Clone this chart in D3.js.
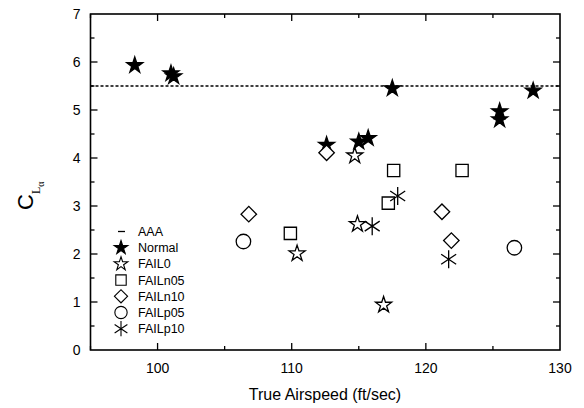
<!DOCTYPE html>
<html>
<head>
<meta charset="utf-8">
<script src="https://cdn.jsdelivr.net/npm/d3@7"></script>
<style>
body { margin: 0; background: #fff; }
text { font-family: "Liberation Sans", Arial, sans-serif; }
</style>
</head>
<body>
<svg id="chart" width="584" height="408"></svg>
<script>
// data: [airspeed, CLalpha]
var AAA = 5.5;
var normal = [[98.3, 5.93], [101.0, 5.76], [101.2, 5.7], [117.5, 5.45], [128.0, 5.4],
    [125.5, 4.97], [125.5, 4.8], [115.0, 4.34], [115.7, 4.41], [112.6, 4.27]];
var fail0 = [[114.7, 4.05], [114.9, 2.62], [110.4, 2.01], [116.85, 0.94]];
var failn05 = [[117.6, 3.74], [122.7, 3.74], [117.2, 3.06], [109.9, 2.43]];
var failn10 = [[112.6, 4.11], [106.8, 2.83], [121.2, 2.88], [121.9, 2.28]];
var failp05 = [[106.4, 2.26], [126.6, 2.13]];
var failp10 = [[117.9, 3.21], [116.0, 2.58], [121.7, 1.89]];
var xTicks = [100, 110, 120, 130];
var yTicks = [0, 1, 2, 3, 4, 5, 6, 7];
var legendNames = ["AAA", "Normal", "FAIL0", "FAILn05", "FAILn10", "FAILp05", "FAILp10"];

var svg = d3.select("#chart");
var mLeft = 90.5, mRight = 560, mTop = 14, mBottom = 350;

var x = d3.scaleLinear().domain([95, 130]).range([mLeft, mRight]);
var y = d3.scaleLinear().domain([0, 7]).range([mBottom, mTop]);

var star = d3.symbol().type(d3.symbolStar).size(80)();
var square = d3.symbol().type(d3.symbolSquare).size(150)();
var diamond = d3.symbol().type(d3.symbolSquare).size(120)();
var circle = d3.symbol().type(d3.symbolCircle).size(165)();
var asterisk = "M0,-9V9M-7.5,-5L7.5,5M-7.5,5L7.5,-5";

// axes box with inward ticks on all sides
function ticksX(g, vals, len, atY, dir) {
    g.selectAll(null).data(vals).enter().append("line")
        .attr("x1", function (d) { return x(d); }).attr("x2", function (d) { return x(d); })
        .attr("y1", atY).attr("y2", atY + dir * len)
        .attr("stroke", "#000").attr("stroke-width", 1.3);
}
function ticksY(g, vals, len, atX, dir) {
    g.selectAll(null).data(vals).enter().append("line")
        .attr("y1", function (d) { return y(d); }).attr("y2", function (d) { return y(d); })
        .attr("x1", atX).attr("x2", atX + dir * len)
        .attr("stroke", "#000").attr("stroke-width", 1.3);
}
var ax = svg.append("g");
ax.append("rect").attr("x", mLeft).attr("y", mTop).attr("width", mRight - mLeft).attr("height", mBottom - mTop)
    .attr("fill", "none").attr("stroke", "#000").attr("stroke-width", 1.6);
var xMinor = d3.range(95, 131, 5).filter(function (d) { return d % 10 !== 0; });
var yMinor = d3.range(0.5, 7, 1);
ticksX(ax, [100, 110, 120], 7, mBottom, -1);
ticksX(ax, xMinor, 4, mBottom, -1);
ticksX(ax, [100, 110, 120], 7, mTop, 1);
ticksX(ax, xMinor, 4, mTop, 1);
ticksY(ax, yTicks.slice(1, 7), 7, mLeft, 1);
ticksY(ax, yMinor, 4, mLeft, 1);
ticksY(ax, yTicks.slice(1, 7), 7, mRight, -1);
ticksY(ax, yMinor, 4, mRight, -1);

ax.selectAll(null).data(xTicks).enter().append("text")
    .attr("x", function (d) { return x(d); }).attr("y", mBottom + 23)
    .attr("text-anchor", "middle").attr("font-size", 14).text(function (d) { return d; });
ax.selectAll(null).data(yTicks).enter().append("text")
    .attr("x", mLeft - 10).attr("y", function (d) { return y(d) + 5; })
    .attr("text-anchor", "end").attr("font-size", 14).text(function (d) { return d; });

svg.append("text").attr("x", 325).attr("y", 400).attr("text-anchor", "middle")
    .attr("font-size", 16).text("True Airspeed (ft/sec)");

var yl = svg.append("text").attr("transform", "translate(33,210) rotate(-90)");
yl.append("tspan").attr("font-size", 22).text("C");
yl.append("tspan").attr("font-family", "Liberation Serif, serif").attr("font-size", 12).attr("dy", 7).text("L");
yl.append("tspan").attr("font-family", "Liberation Serif, serif").attr("font-size", 10).attr("dy", 4).text("α");

// AAA reference line
svg.append("line").attr("x1", mLeft).attr("x2", mRight).attr("y1", y(AAA)).attr("y2", y(AAA))
    .attr("stroke", "#000").attr("stroke-width", 1.3).attr("stroke-dasharray", "3,2");

function plot(data, path, fill, rot) {
    svg.append("g").selectAll("path").data(data).enter().append("path")
        .attr("d", path)
        .attr("transform", function (d) { return "translate(" + x(d[0]) + "," + y(d[1]) + ")" + (rot ? " rotate(45)" : ""); })
        .attr("fill", fill).attr("stroke", "#000").attr("stroke-width", 1.3);
}
plot(normal, star, "#000");
plot(fail0, star, "#fff");
plot(failn05, square, "#fff");
plot(failn10, diamond, "#fff", true);
plot(failp05, circle, "#fff");
plot(failp10, asterisk, "none");

// legend
var lg = svg.append("g");
var shapes = [null, star, star, square, diamond, circle, asterisk];
var fills = [null, "#000", "#fff", "#fff", "#fff", "#fff", "none"];
legendNames.forEach(function (name, i) {
    var ly = 231.5 + i * 16.2;
    if (i === 0) {
        lg.append("line").attr("x1", 118).attr("x2", 125).attr("y1", ly).attr("y2", ly)
            .attr("stroke", "#000").attr("stroke-width", 1.3);
    } else {
        lg.append("path").attr("d", shapes[i])
            .attr("transform", "translate(121," + ly + ")" + (i === 4 ? " rotate(45)" : "") + " scale(0.85)")
            .attr("fill", fills[i]).attr("stroke", "#000").attr("stroke-width", 1.3);
    }
    lg.append("text").attr("x", 138).attr("y", ly + 4.5).attr("font-size", 12.5).text(name);
});
</script>
</body>
</html>
